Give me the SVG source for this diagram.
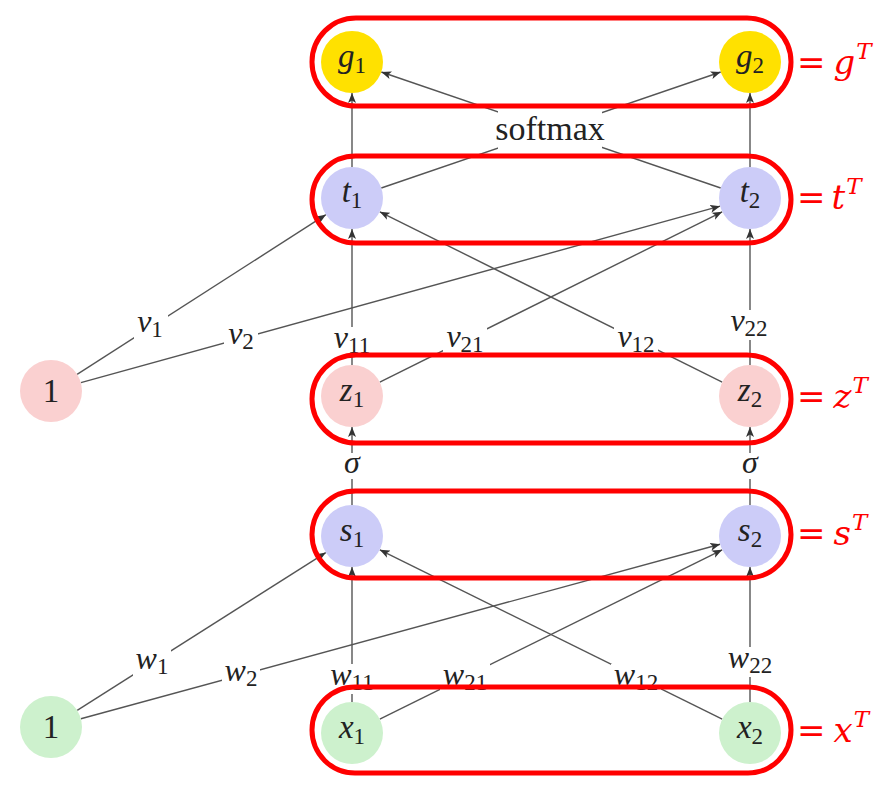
<svg xmlns="http://www.w3.org/2000/svg" width="891" height="793" viewBox="0 0 891 793" font-family="'Liberation Serif', 'Times New Roman', serif">
  <defs>
    <marker id="arrow" markerUnits="userSpaceOnUse" markerWidth="10" markerHeight="8" viewBox="0 0 10 8" refX="10" refY="4" orient="auto">
      <path d="M0,0 L10,4 L0,8 L2.5,4 z" fill="#333"/>
    </marker>
    <style>
      .edge { stroke: #555; stroke-width: 1.4; fill: none; }
      .arr { marker-end: url(#arrow); }
      .lbl-bg { fill: #fff; }
      .lbl { font-size: 32px; fill: #222; text-anchor: middle; }
      .big { font-size: 34px; }
      .it { font-style: italic; }
      .sub { font-size: 23px; }
      .node-txt { font-size: 33px; fill: #222; text-anchor: middle; }
      .nsub { font-size: 23px; }
      .yellow { fill: #FFE100; }
      .lav { fill: #CCCCF8; }
      .pink { fill: #FAD0D0; }
      .green { fill: #CDF1CD; }
      .group-box { fill: none; stroke: #FF0000; stroke-width: 5; }
      .eq { font-family: 'DejaVu Serif', serif; font-size: 34px; fill: #FF0000; }
      .sup { font-size: 23px; font-style: italic; }
    </style>
  </defs>

  <rect width="891" height="793" fill="#fff"/>

  <!-- connectors -->
  <g id="connectors">
    <!-- t -> g -->
    <line class="edge arr" x1="352" y1="167" x2="352" y2="93"/>
    <line class="edge arr" x1="750" y1="167" x2="750" y2="93"/>
    <line class="edge arr" x1="381.3" y1="188" x2="720.7" y2="72"/>
    <line class="edge arr" x1="720.7" y1="188" x2="381.3" y2="72"/>
    <!-- bias / z -> t -->
    <line class="edge arr" x1="77.1" y1="374.3" x2="325.9" y2="214.7"/>
    <line class="edge arr" x1="80.9" y1="382.7" x2="720.1" y2="206.2"/>
    <line class="edge arr" x1="352" y1="365" x2="352" y2="229"/>
    <line class="edge arr" x1="379.8" y1="382.2" x2="722.2" y2="211.8"/>
    <line class="edge arr" x1="722.2" y1="382.2" x2="379.8" y2="211.8"/>
    <line class="edge arr" x1="750" y1="365" x2="750" y2="229"/>
    <!-- s -> z -->
    <line class="edge arr" x1="352" y1="505" x2="352" y2="427"/>
    <line class="edge arr" x1="750" y1="505" x2="750" y2="427"/>
    <!-- bias / x -> s -->
    <line class="edge arr" x1="77.2" y1="710.4" x2="325.8" y2="552.6"/>
    <line class="edge arr" x1="80.9" y1="718.8" x2="720.1" y2="544.2"/>
    <line class="edge arr" x1="352" y1="702" x2="352" y2="567"/>
    <line class="edge arr" x1="379.8" y1="719.2" x2="722.2" y2="549.8"/>
    <line class="edge arr" x1="722.2" y1="719.2" x2="379.8" y2="549.8"/>
    <line class="edge arr" x1="750" y1="702" x2="750" y2="567"/>
  </g>

  <!-- edge labels -->
  <g id="edge-labels">
    <rect class="lbl-bg" x="498" y="108" width="104" height="42"/>
    <text class="lbl big" x="550" y="140">softmax</text>

    <rect class="lbl-bg" x="134" y="312" width="34" height="28"/>
    <text class="lbl" x="150" y="332"><tspan class="it">v</tspan><tspan class="sub" dy="5">1</tspan></text>
    <rect class="lbl-bg" x="224" y="324" width="34" height="28"/>
    <text class="lbl" x="241" y="344"><tspan class="it">v</tspan><tspan class="sub" dy="5">2</tspan></text>
    <rect class="lbl-bg" x="330" y="327" width="44" height="30"/>
    <text class="lbl" x="352" y="348"><tspan class="it">v</tspan><tspan class="sub" dy="5">11</tspan></text>
    <rect class="lbl-bg" x="443" y="326" width="44" height="30"/>
    <text class="lbl" x="465" y="347"><tspan class="it">v</tspan><tspan class="sub" dy="5">21</tspan></text>
    <rect class="lbl-bg" x="614" y="326" width="44" height="30"/>
    <text class="lbl" x="636" y="347"><tspan class="it">v</tspan><tspan class="sub" dy="5">12</tspan></text>
    <rect class="lbl-bg" x="727" y="310" width="44" height="30"/>
    <text class="lbl" x="749" y="331"><tspan class="it">v</tspan><tspan class="sub" dy="5">22</tspan></text>

    <rect class="lbl-bg" x="340" y="453" width="24" height="26"/>
    <text class="lbl it" x="352" y="473">σ</text>
    <rect class="lbl-bg" x="738" y="453" width="24" height="26"/>
    <text class="lbl it" x="750" y="473">σ</text>

    <rect class="lbl-bg" x="133" y="649" width="38" height="28"/>
    <text class="lbl" x="152" y="669"><tspan class="it">w</tspan><tspan class="sub" dy="5">1</tspan></text>
    <rect class="lbl-bg" x="222" y="661" width="38" height="28"/>
    <text class="lbl" x="241" y="681"><tspan class="it">w</tspan><tspan class="sub" dy="5">2</tspan></text>
    <rect class="lbl-bg" x="327" y="664" width="50" height="30"/>
    <text class="lbl" x="352" y="685"><tspan class="it">w</tspan><tspan class="sub" dy="5">11</tspan></text>
    <rect class="lbl-bg" x="440" y="664" width="50" height="30"/>
    <text class="lbl" x="465" y="685"><tspan class="it">w</tspan><tspan class="sub" dy="5">21</tspan></text>
    <rect class="lbl-bg" x="611" y="664" width="50" height="30"/>
    <text class="lbl" x="636" y="685"><tspan class="it">w</tspan><tspan class="sub" dy="5">12</tspan></text>
    <rect class="lbl-bg" x="725" y="647" width="50" height="30"/>
    <text class="lbl" x="750" y="668"><tspan class="it">w</tspan><tspan class="sub" dy="5">22</tspan></text>
  </g>

  <!-- nodes -->
  <g id="g1"><circle class="yellow" cx="352" cy="62" r="31"/><text class="node-txt" x="352" y="67"><tspan class="it">g</tspan><tspan class="nsub" dy="6">1</tspan></text></g>
  <g id="g2"><circle class="yellow" cx="750" cy="62" r="31"/><text class="node-txt" x="750" y="67"><tspan class="it">g</tspan><tspan class="nsub" dy="6">2</tspan></text></g>
  <g id="t1"><circle class="lav" cx="352" cy="198" r="31"/><text class="node-txt" x="352" y="202"><tspan class="it">t</tspan><tspan class="nsub" dy="6">1</tspan></text></g>
  <g id="t2"><circle class="lav" cx="750" cy="198" r="31"/><text class="node-txt" x="750" y="202"><tspan class="it">t</tspan><tspan class="nsub" dy="6">2</tspan></text></g>
  <g id="bias-v"><circle class="pink" cx="51" cy="391" r="31"/><text class="node-txt" x="51" y="402">1</text></g>
  <g id="z1"><circle class="pink" cx="352" cy="396" r="31"/><text class="node-txt" x="352" y="401"><tspan class="it">z</tspan><tspan class="nsub" dy="6">1</tspan></text></g>
  <g id="z2"><circle class="pink" cx="750" cy="396" r="31"/><text class="node-txt" x="750" y="401"><tspan class="it">z</tspan><tspan class="nsub" dy="6">2</tspan></text></g>
  <g id="s1"><circle class="lav" cx="352" cy="536" r="31"/><text class="node-txt" x="352" y="541"><tspan class="it">s</tspan><tspan class="nsub" dy="6">1</tspan></text></g>
  <g id="s2"><circle class="lav" cx="750" cy="536" r="31"/><text class="node-txt" x="750" y="541"><tspan class="it">s</tspan><tspan class="nsub" dy="6">2</tspan></text></g>
  <g id="bias-w"><circle class="green" cx="51" cy="727" r="31"/><text class="node-txt" x="51" y="738">1</text></g>
  <g id="x1"><circle class="green" cx="352" cy="733" r="31"/><text class="node-txt" x="352" y="738"><tspan class="it">x</tspan><tspan class="nsub" dy="6">1</tspan></text></g>
  <g id="x2"><circle class="green" cx="750" cy="733" r="31"/><text class="node-txt" x="750" y="738"><tspan class="it">x</tspan><tspan class="nsub" dy="6">2</tspan></text></g>

  <!-- layer groupings as row vectors -->
  <g id="row-g">
    <rect class="group-box" x="312" y="18" width="479" height="88" rx="44"/>
    <text class="eq" x="797" y="74">=<tspan class="it" dx="8">g</tspan><tspan class="sup" dx="1" dy="-15">T</tspan></text>
  </g>
  <g id="row-t">
    <rect class="group-box" x="312" y="156" width="479" height="87" rx="43.5"/>
    <text class="eq" x="797" y="209">=<tspan class="it" dx="6">t</tspan><tspan class="sup" dx="1" dy="-15">T</tspan></text>
  </g>
  <g id="row-z">
    <rect class="group-box" x="312" y="355" width="479" height="88" rx="44"/>
    <text class="eq" x="797" y="408">=<tspan class="it" dx="8">z</tspan><tspan class="sup" dx="1" dy="-15">T</tspan></text>
  </g>
  <g id="row-s">
    <rect class="group-box" x="312" y="491" width="479" height="87" rx="43.5"/>
    <text class="eq" x="797" y="545">=<tspan class="it" dx="8">s</tspan><tspan class="sup" dx="1" dy="-15">T</tspan></text>
  </g>
  <g id="row-x">
    <rect class="group-box" x="312" y="687" width="479" height="86" rx="43"/>
    <text class="eq" x="797" y="742">=<tspan class="it" dx="8">x</tspan><tspan class="sup" dx="1" dy="-15">T</tspan></text>
  </g>
</svg>
